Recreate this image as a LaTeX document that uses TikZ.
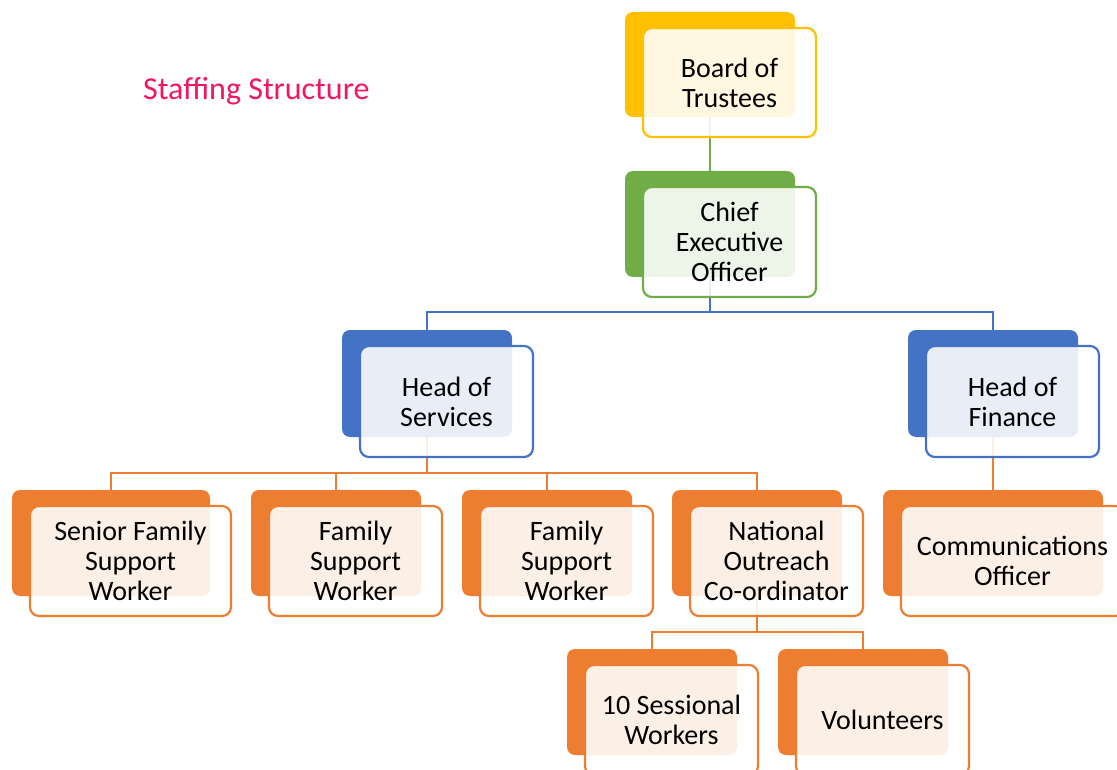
\documentclass[tikz,border=0pt]{standalone}
\usepackage{fontspec}
\setmainfont{Carlito}
\definecolor{cyellow}{HTML}{FFC000}
\definecolor{cgreen}{HTML}{70AD47}
\definecolor{cblue}{HTML}{4472C4}
\definecolor{corange}{HTML}{ED7D31}
\definecolor{titlepink}{RGB}{240,22,98}
\pgfdeclarelayer{background}
\pgfsetlayers{background,main}
% one organisation unit: a solid back card and a lighter outlined card in front
% #1 name, #2 colour, #3 x, #4 y, #5 width, #6 height, #7 text
\newcommand\orgunit[7]{%
  \node[backbox=#2, minimum width=#5, minimum height=#6] (#1B) at (#3,#4) {};
  \node[frontbox=#2, minimum width=#5+3, minimum height=#6+4] (#1) at (#3+18,#4+16) {#7};
}
\begin{document}
\begin{tikzpicture}[x=1pt,y=-1pt,
  backbox/.style={fill=#1, rounded corners=8pt, anchor=north west, inner sep=0pt, outer sep=0pt},
  frontbox/.style={draw=#1, line width=2.2pt, fill=white, fill opacity=0.88, text opacity=1,
    rounded corners=9pt, anchor=north west, inner sep=0pt, outer sep=0pt, align=center,
    font=\fontsize{28}{30}\selectfont},
  conn/.style={draw=#1, line width=2.2pt}]
\useasboundingbox (0,0) rectangle (1117,770);

\node[text=titlepink, font=\fontsize{32}{34}\selectfont, anchor=west, inner sep=0pt] (title) at (143,91) {Staffing Structure};

\orgunit{board}{cyellow}{625}{12}{170}{105}{Board of\\Trustees}
\orgunit{ceo}{cgreen}{625}{171}{170}{106}{Chief\\Executive\\Officer}
\orgunit{hs}{cblue}{342}{330}{170}{107}{Head of\\Services}
\orgunit{hf}{cblue}{908}{330}{170}{107}{Head of\\Finance}
\orgunit{senior}{corange}{12}{490}{198}{106}{Senior Family\\Support\\Worker}
\orgunit{famA}{corange}{251}{490}{170}{106}{Family\\Support\\Worker}
\orgunit{famB}{corange}{462}{490}{170}{106}{Family\\Support\\Worker}
\orgunit{nat}{corange}{672}{490}{170}{106}{National\\Outreach\\Co-ordinator}
\orgunit{comm}{corange}{883}{490}{220}{106}{Communications\\Officer}
\orgunit{sess}{corange}{567}{649}{170}{106}{10 Sessional\\Workers}
\orgunit{vol}{corange}{778}{649}{170}{106}{Volunteers}

\begin{pgfonlayer}{background}
  \draw[conn=cgreen] (boardB.south) -- (ceoB.north);
  \draw[conn=cblue] (ceoB.south) -- (ceoB.south |- 0,312) coordinate (busA);
  \draw[conn=cblue] (hsB.north) |- (busA) -| (hfB.north);
  \draw[conn=corange] (hsB.south) -- (hsB.south |- 0,473) coordinate (busB);
  \draw[conn=corange] (seniorB.north) |- (natB.north |- busB) -- (natB.north);
  \draw[conn=corange] (famAB.north) -- (famAB.north |- busB);
  \draw[conn=corange] (famBB.north) -- (famBB.north |- busB);
  \draw[conn=corange] (hfB.south) -- (commB.north);
  \draw[conn=corange] (natB.south) -- (natB.south |- 0,632) coordinate (busC);
  \draw[conn=corange] (sessB.north) |- (busC) -| (volB.north);
\end{pgfonlayer}
\end{tikzpicture}
\end{document}
